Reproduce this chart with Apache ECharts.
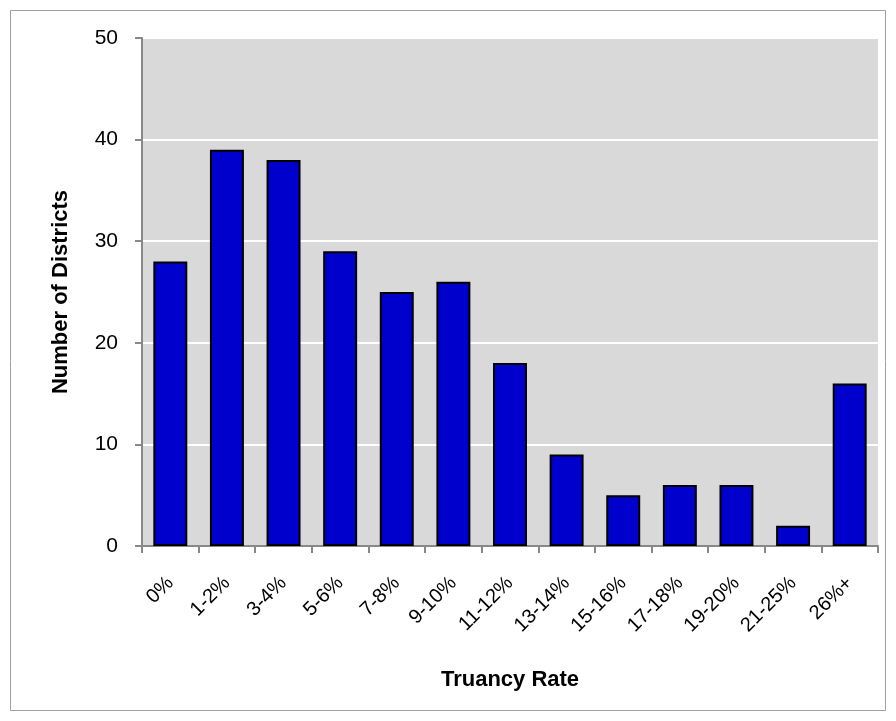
<!DOCTYPE html>
<html>
<head>
<meta charset="utf-8">
<script src="https://cdn.jsdelivr.net/npm/echarts@6/dist/echarts.min.js"></script>
<style>
  html, body { margin: 0; padding: 0; background: #fff; }
  #myChart { width: 896px; height: 721px; }
</style>
</head>
<body>
<div id="myChart"></div>
<script>
// categories and values
var categories = ['0%', '1-2%', '3-4%', '5-6%', '7-8%', '9-10%', '11-12%', '13-14%', '15-16%', '17-18%', '19-20%', '21-25%', '26%+'];
var districts = [28, 39, 38, 29, 25, 26, 18, 9, 5, 6, 6, 2, 16];

var myChart = echarts.init(document.getElementById('myChart'));

var option = {
  animation: false,
  textStyle: { fontFamily: 'Liberation Sans' },
  graphic: [{
    type: 'rect',
    shape: { x: 10.5, y: 10.5, width: 875, height: 700 },
    style: { fill: 'none', stroke: '#a0a0a0', lineWidth: 1 },
    silent: true
  }],
  grid: {
    left: 142, right: 18, top: 38, bottom: 175,
    show: true,
    backgroundColor: '#d9d9d9',
    borderWidth: 0
  },
  xAxis: {
    type: 'category',
    data: categories,
    name: 'Truancy Rate',
    nameLocation: 'middle',
    nameGap: 123,
    nameTextStyle: { fontSize: 22, fontWeight: 'bold', color: '#000' },
    axisLine: { show: true, lineStyle: { color: '#888', width: 2 } },
    axisTick: { show: true, alignWithLabel: false, length: 7, lineStyle: { color: '#888', width: 2 } },
    axisLabel: { rotate: 45, fontSize: 20, color: '#000', margin: 34, interval: 0 },
    splitLine: { show: false }
  },
  yAxis: {
    type: 'value',
    min: 0, max: 50, interval: 10,
    name: 'Number of Districts',
    nameLocation: 'middle',
    nameGap: 70,
    nameTextStyle: { fontSize: 22, fontWeight: 'bold', color: '#000' },
    axisLine: { show: true, lineStyle: { color: '#888', width: 2 } },
    axisTick: { show: true, length: 7, lineStyle: { color: '#888', width: 2 } },
    axisLabel: { fontSize: 21, color: '#000', margin: 24 },
    splitLine: { show: true, lineStyle: { color: '#ffffff', width: 2 } }
  },
  series: [{
    type: 'bar',
    data: districts,
    barWidth: '60%',
    itemStyle: { color: '#0000cc', borderColor: '#000', borderWidth: 2 }
  }]
};

myChart.setOption(option);
</script>
</body>
</html>
